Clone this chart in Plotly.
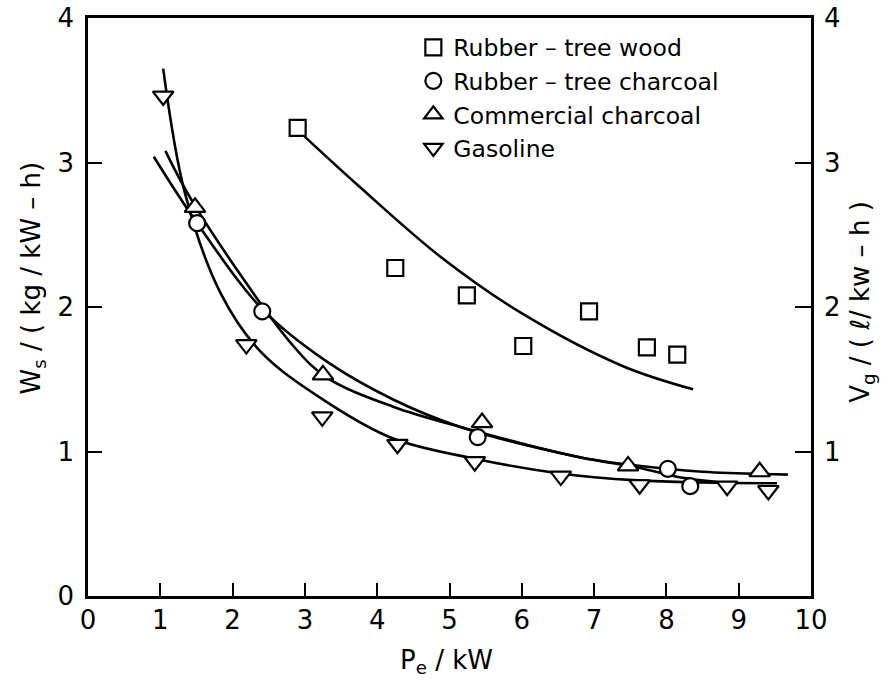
import plotly.graph_objects as go

# ---- data ----
wood_x = [2.90, 4.25, 5.24, 6.02, 6.93, 7.73, 8.15]
wood_y = [3.24, 2.27, 2.08, 1.73, 1.97, 1.72, 1.67]
wood_fit_x = [2.93, 3.76, 4.87, 6.02, 7.40, 8.37]
wood_fit_y = [3.21, 2.83, 2.35, 1.95, 1.59, 1.43]

rchar_x = [1.51, 2.41, 5.39, 8.02, 8.33]
rchar_y = [2.58, 1.97, 1.10, 0.88, 0.76]
rchar_fit_x = [0.91, 1.51, 2.42, 3.31, 4.22, 5.15, 6.80, 7.60, 8.20, 8.70]
rchar_fit_y = [3.04, 2.58, 1.98, 1.62, 1.36, 1.17, 0.96, 0.89, 0.82, 0.79]

comm_x = [1.48, 3.25, 5.45, 7.47, 9.29]
comm_y = [2.69, 1.53, 1.20, 0.90, 0.86]
comm_fit_x = [1.07, 1.48, 2.84, 3.31, 4.22, 5.15, 6.80, 7.47, 8.50, 9.68]
comm_fit_y = [3.08, 2.70, 1.73, 1.51, 1.31, 1.17, 0.96, 0.91, 0.86, 0.84]

gas_x = [1.04, 2.19, 3.24, 4.28, 5.35, 6.54, 7.63, 8.84, 9.41]
gas_y = [3.46, 1.74, 1.24, 1.05, 0.93, 0.83, 0.77, 0.76, 0.73]
gas_fit_x = [1.04, 1.34, 1.83, 2.39, 3.31, 4.22, 5.35, 6.50, 7.60, 8.50, 9.53]
gas_fit_y = [3.65, 2.79, 2.10, 1.69, 1.34, 1.09, 0.95, 0.85, 0.80, 0.785, 0.78]

series_names = ["Rubber – tree wood", "Rubber – tree charcoal",
                "Commercial charcoal", "Gasoline"]

x_ticks = [0, 1, 2, 3, 4, 5, 6, 7, 8, 9, 10]
y_ticks = [0, 1, 2, 3, 4]
y2_ticks = [1, 2, 3, 4]

FONT = "DejaVu Sans"
fig = go.Figure()

line_style = dict(color="black", width=2.6, shape="spline", smoothing=1.0)
for fx, fy in [(wood_fit_x, wood_fit_y), (rchar_fit_x, rchar_fit_y),
               (comm_fit_x, comm_fit_y), (gas_fit_x, gas_fit_y)]:
    fig.add_trace(go.Scatter(x=fx, y=fy, mode="lines", line=line_style,
                             showlegend=False, hoverinfo="skip"))

symbols = ["square", "circle", "triangle-up", "triangle-down"]
sizes = [16, 16, 18, 18]
for (px, py), name, sym, sz in zip(
        [(wood_x, wood_y), (rchar_x, rchar_y), (comm_x, comm_y), (gas_x, gas_y)],
        series_names, symbols, sizes):
    fig.add_trace(go.Scatter(
        x=px, y=py, mode="markers", name=name,
        marker=dict(symbol=sym, size=sz, color="white",
                    line=dict(color="black", width=2.2))))

# invisible trace to activate the right axis
fig.add_trace(go.Scatter(x=[0], y=[0], yaxis="y2", mode="markers",
                         marker=dict(opacity=0), showlegend=False,
                         hoverinfo="skip"))

fig.update_layout(
    width=894, height=687,
    margin=dict(l=88, r=83, t=18, b=91, autoexpand=False),
    paper_bgcolor="white", plot_bgcolor="white",
    font=dict(family=FONT, color="black", size=26),
    xaxis=dict(range=[0, 10], tickvals=x_ticks, ticks="inside", ticklen=13,
               tickwidth=2.2, tickcolor="black", showline=True, linewidth=2.6,
               linecolor="black", mirror=True, showgrid=False, zeroline=False,
               tickfont=dict(size=26), ticklabelstandoff=-1, automargin=False,
               ticklabeloverflow="allow"),
    yaxis=dict(range=[0, 4], tickvals=y_ticks, ticks="inside", ticklen=14,
               tickwidth=2.2, tickcolor="black", showline=True, linewidth=2.6,
               linecolor="black", showgrid=False, zeroline=False,
               tickfont=dict(size=26), ticklabelstandoff=6, automargin=False,
               ticklabeloverflow="allow"),
    yaxis2=dict(range=[0, 4], tickvals=y2_ticks, ticks="inside", ticklen=16,
                tickwidth=2.2, tickcolor="black", showline=True, linewidth=2.6,
                linecolor="black", overlaying="y", side="right",
                showgrid=False, zeroline=False, tickfont=dict(size=26),
                ticklabelstandoff=5, automargin=False,
                ticklabeloverflow="allow"),
    legend=dict(x=0.45, y=0.987, xanchor="left", yanchor="top",
                bgcolor="rgba(0,0,0,0)", borderwidth=0,
                font=dict(size=23.5, family=FONT), tracegroupgap=0),
    showlegend=True,
)

fig.add_annotation(text="W<sub>s</sub> / ( kg / kW – h)", xref="paper", yref="paper",
                   x=-0.077, y=0.55, textangle=-90, showarrow=False,
                   font=dict(size=26, family=FONT), xanchor="center", yanchor="middle")
fig.add_annotation(text="V<sub>g</sub> / ( ℓ/ kw – h )", xref="paper", yref="paper",
                   x=1.0705, y=0.509, textangle=-90, showarrow=False,
                   font=dict(size=26, family=FONT), xanchor="center", yanchor="middle")
fig.add_annotation(text="P<sub>e</sub> / kW", xref="paper", yref="paper",
                   x=0.4965, y=-0.113, showarrow=False,
                   font=dict(size=26, family=FONT), xanchor="center", yanchor="middle")

# remove the default 8px page margin so the figure fills the window exactly
fig.write_html("out.html",
               config={"displayModeBar": False},
               post_script="document.body.style.margin='0';")
